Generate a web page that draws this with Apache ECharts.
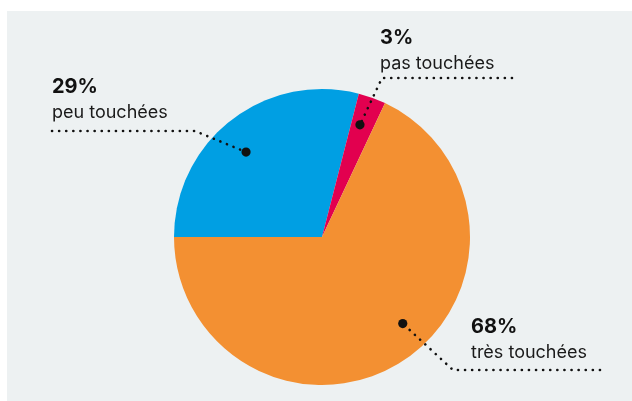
<!DOCTYPE html>
<html>
<head>
<meta charset="utf-8">
<script src="https://cdn.jsdelivr.net/npm/echarts@6/dist/echarts.min.js"></script>
<style>
html,body{margin:0;padding:0;background:#ffffff;}
#c{width:632px;height:401px;}
</style>
</head>
<body>
<div id="c"></div>
<script>
// Data
const categories = ['peu touchées', 'pas touchées', 'très touchées'];
const values = [29, 3, 68];
const percentLabels = ['29%', '3%', '68%'];
const colors = ['#009fe3', '#e2004f', '#f39032'];

// Layout (annotation placement)
const center = [322, 237];
const radius = 148;
const startAngle = 180;
// text box top-left for each label
const labelBoxes = [[52, 75], [380, 26], [471, 315]];
// elbow and end of the dotted leader line
const leaderElbows = [[195, 131], [382, 78], [453, 370]];
const leaderEnds = [[52, 131], [512, 78], [600, 370]];
// dot placement: angle offset from slice mid-angle (deg) and fraction of radius
const dotAngleOffset = [4, 1.1, 10.6];
const dotRadiusFrac = [0.77, 0.8, 0.8];

const total = values.reduce((a, b) => a + b, 0);
const dots = [];
let acc = startAngle;
values.forEach((v, i) => {
  const span = v / total * 360;
  const mid = acc - span / 2;
  acc -= span;
  const a = (mid + dotAngleOffset[i]) * Math.PI / 180;
  const r = radius * dotRadiusFrac[i];
  dots.push([center[0] + r * Math.cos(a), center[1] - r * Math.sin(a)]);
});

const graphics = [
  {type: 'rect', z: -10, silent: true, shape: {x: 7, y: 11, width: 625, height: 390}, style: {fill: '#edf1f2'}}
];
dots.forEach((d, i) => {
  graphics.push({
    type: 'polyline', z: 100, silent: true,
    shape: {points: [leaderEnds[i], leaderElbows[i], d]},
    style: {stroke: '#111111', lineWidth: 2.6, lineDash: [0.1, 7], lineCap: 'round', fill: null}
  });
  graphics.push({
    type: 'circle', z: 101, silent: true,
    shape: {cx: d[0], cy: d[1], r: 4.6},
    style: {fill: '#111111'}
  });
});

const chart = echarts.init(document.getElementById('c'), null, {renderer: 'canvas'});
const option = {
  animation: false,
  graphic: graphics,
  series: [{
    type: 'pie',
    center: center,
    radius: radius,
    startAngle: startAngle,
    clockwise: true,
    silent: true,
    data: categories.map((c, i) => ({
      name: c, value: values[i], itemStyle: {color: colors[i]}
    })),
    label: {
      show: true,
      formatter: p => '{p|' + percentLabels[p.dataIndex] + '}\n{t|' + p.name + '}',
      rich: {
        p: {fontFamily: 'Inter', fontWeight: 'bold', fontSize: 20, lineHeight: 24, color: '#111111'},
        t: {fontFamily: 'Inter', fontSize: 18, lineHeight: 27, color: '#1a1a1a'}
      },
      align: 'left'
    },
    labelLine: {show: false},
    labelLayout: function (params) {
      const i = params.dataIndex;
      return {
        x: labelBoxes[i][0],
        y: labelBoxes[i][1],
        align: 'left',
        verticalAlign: 'top'
      };
    }
  }]
};
chart.setOption(option);
</script>
</body>
</html>
